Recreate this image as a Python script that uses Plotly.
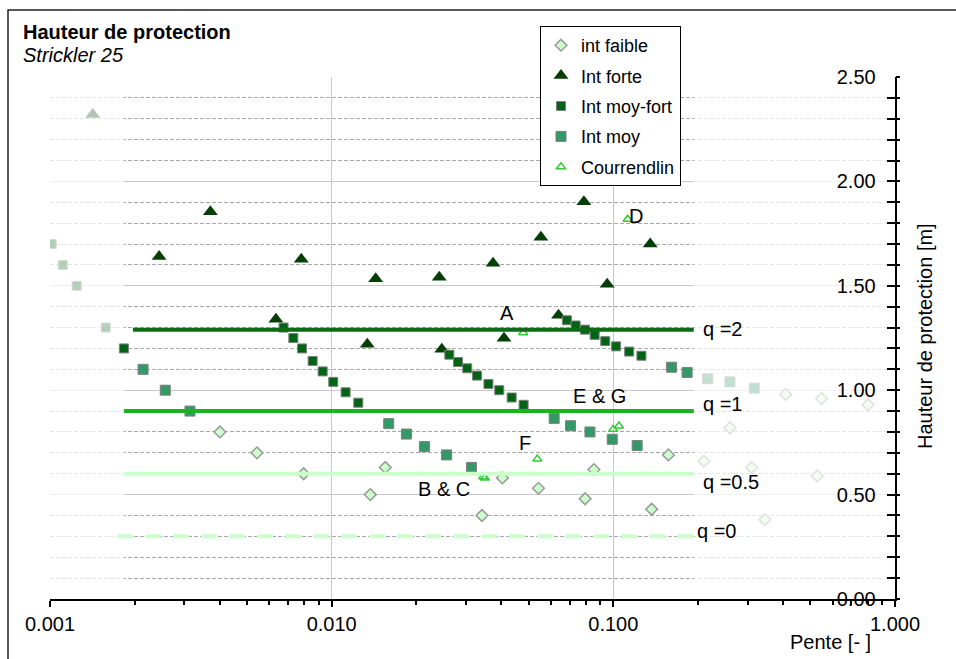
import numpy as np
import plotly.graph_objects as go

# ---------------- data ----------------
FAIBLE_X = [0.00401, 0.00543, 0.00795, 0.01371, 0.0155, 0.03416, 0.04039, 0.05422,
            0.0794, 0.08532, 0.1368, 0.1569, 0.2097, 0.2594, 0.3097, 0.3452,
            0.4089, 0.5295, 0.5489, 0.803]
FAIBLE_Y = [0.80, 0.70, 0.60, 0.50, 0.63, 0.40, 0.58, 0.53,
            0.48, 0.62, 0.43, 0.69, 0.66, 0.82, 0.63, 0.38,
            0.98, 0.59, 0.96, 0.93]

FORTE_X = [0.001418, 0.00244, 0.00371, 0.00634, 0.0078, 0.01338, 0.01433, 0.0241,
           0.0246, 0.0374, 0.0409, 0.0553, 0.0639, 0.0786, 0.0951, 0.1352]
FORTE_Y = [2.32, 1.64, 1.855, 1.34, 1.627, 1.22, 1.534, 1.541,
           1.196, 1.608, 1.249, 1.732, 1.359, 1.903, 1.507, 1.70]

MOYFORT_X = [0.001014, 0.00111, 0.001244, 0.001577, 0.00183,
             0.00675, 0.00731, 0.00785, 0.00856, 0.00929, 0.01013, 0.01121, 0.01243,
             0.02616, 0.02808, 0.03029, 0.0328, 0.03602, 0.03936, 0.04355, 0.04802,
             0.06842, 0.07348, 0.07929, 0.08584, 0.09361, 0.1023, 0.1138, 0.1258]
MOYFORT_Y = [1.70, 1.60, 1.50, 1.30, 1.20,
             1.30, 1.25, 1.20, 1.14, 1.09, 1.04, 0.99, 0.94,
             1.17, 1.135, 1.105, 1.07, 1.03, 1.00, 0.965, 0.93,
             1.335, 1.31, 1.29, 1.265, 1.235, 1.21, 1.185, 1.165]

MOY_X = [0.00214, 0.002566, 0.00314,
         0.01594, 0.01843, 0.02135, 0.02559, 0.03135,
         0.06165, 0.07047, 0.0826, 0.0991, 0.1215,
         0.161, 0.1828, 0.2163, 0.2594, 0.3164]
MOY_Y = [1.10, 1.00, 0.90,
         0.84, 0.79, 0.73, 0.69, 0.63,
         0.865, 0.83, 0.80, 0.765, 0.735,
         1.11, 1.085, 1.055, 1.04, 1.01]

COUR_X = [0.0345, 0.0350, 0.04787, 0.0537, 0.0998, 0.1047, 0.1124]
COUR_Y = [0.585, 0.580, 1.2755, 0.670, 0.8125, 0.8285, 1.8185]

# protection heights for specific discharge q
Q_LABELS = ["q =2", "q =1", "q =0.5", "q =0"]
Q_HEIGHT = [1.29, 0.90, 0.60, 0.30]
Q_X_START = [0.00197, 0.00183, 0.00183, 0.00173]
Q_X_END = [0.193, 0.193, 0.193, 0.193]
Q_LABEL_X = [0.2046, 0.2046, 0.2046, 0.195]
Q_LABEL_Y = [1.293, 0.934, 0.562, 0.326]

SITE_LABELS = ["A", "B & C", "D", "E & G", "F"]
SITE_LABEL_X = [0.0418, 0.0251, 0.1202, 0.0896, 0.0486]
SITE_LABEL_Y = [1.371, 0.527, 1.834, 0.972, 0.746]

# validity range of the method (outside it everything is faded)
VALID_MIN = 0.00183
VALID_MAX = 0.193

X_TITLE = "Pente [- ]"
Y_TITLE = "Hauteur de protection [m]"
TITLE = "Hauteur de protection"
SUBTITLE = "Strickler 25"

# ---------------- styling ----------------
FONT = "Liberation Sans, Arial, sans-serif"
W, H = 956, 659
L, R, T, B = 50, 61, 77, 60
PW, PH = W - L - R, H - T - B
FADE = 0.7


def px2paper(px, py):
    return (px - L) / PW, (H - B - py) / PH


def fade(hexcol, a=FADE):
    hexcol = hexcol.lstrip("#")
    r, g, b = (int(hexcol[i:i + 2], 16) for i in (0, 2, 4))
    r, g, b = (round(c + (255 - c) * a) for c in (r, g, b))
    return f"#{r:02x}{g:02x}{b:02x}"


SERIES = [
    dict(name="int faible", x=FAIBLE_X, y=FAIBLE_Y, symbol="diamond", size=9,
         color="#ccffcc", line="#999999", lw=1.5),
    dict(name="Int forte", x=FORTE_X, y=FORTE_Y, symbol="triangle-up", size=13,
         color="#063f06", line="#063f06", lw=0),
    dict(name="Int moy-fort", x=MOYFORT_X, y=MOYFORT_Y, symbol="square", size=9,
         color="#006414", line="#7f7f7f", lw=1),
    dict(name="Int moy", x=MOY_X, y=MOY_Y, symbol="square", size=10,
         color="#339966", line="#7f7f7f", lw=1),
    dict(name="Courrendlin", x=COUR_X, y=COUR_Y, symbol="triangle-up-open", size=8,
         color="#33cc33", line="#33cc33", lw=1.5),
]

fig = go.Figure()

for i, s in enumerate(SERIES):
    xs = np.array(s["x"])
    ys = np.array(s["y"])
    inside = (xs >= VALID_MIN * 0.99) & (xs <= VALID_MAX)
    for part, mask in (("in", inside), ("out", ~inside)):
        faded = part == "out"
        fig.add_trace(go.Scatter(
            x=xs[mask], y=ys[mask], mode="markers", name=s["name"],
            legendgroup=s["name"], showlegend=(part == "in"),
            marker=dict(symbol=s["symbol"], size=s["size"],
                        color=fade(s["color"]) if faded else s["color"],
                        line=dict(color=fade(s["line"]) if faded else s["line"],
                                  width=s["lw"])),
            hoverinfo="x+y+name",
        ))

Q_STYLES = [
    dict(color="#0c6b14", width=4, dash="solid"),
    dict(color="#1db31d", width=4, dash="solid"),
    dict(color="#ccffcc", width=4, dash="solid"),
    dict(color="#ccffcc", width=4, dash="16px,12px"),
]
for lab, h, x0, x1, st in zip(Q_LABELS, Q_HEIGHT, Q_X_START, Q_X_END, Q_STYLES):
    fig.add_trace(go.Scatter(x=[x0, x1], y=[h, h], mode="lines", name=lab,
                             showlegend=False, line=st, hoverinfo="name"))

# dummy trace so that the crossing (outside) tick axis is drawn
fig.add_trace(go.Scatter(x=[], y=[], yaxis="y2", showlegend=False, hoverinfo="skip"))

annotations = []
for lab, xv, yv in zip(Q_LABELS, Q_LABEL_X, Q_LABEL_Y):
    annotations.append(dict(x=np.log10(xv), y=yv, xref="x", yref="y", text=lab,
                            showarrow=False, xanchor="left", yanchor="middle",
                            font=dict(size=20, color="#000000", family=FONT)))
for lab, xv, yv in zip(SITE_LABELS, SITE_LABEL_X, SITE_LABEL_Y):
    annotations.append(dict(x=np.log10(xv), y=yv, xref="x", yref="y", text=lab,
                            showarrow=False, xanchor="center", yanchor="middle",
                            font=dict(size=20, color="#000000", family=FONT)))

tx, ty = px2paper(21, 32)
annotations.append(dict(x=tx, y=ty, xref="paper", yref="paper", text=f"<b>{TITLE}</b>",
                        showarrow=False, xanchor="left", yanchor="middle",
                        font=dict(size=20, color="#000000", family=FONT)))
sx, sy = px2paper(21, 55)
annotations.append(dict(x=sx, y=sy, xref="paper", yref="paper", text=f"<i>{SUBTITLE}</i>",
                        showarrow=False, xanchor="left", yanchor="middle",
                        font=dict(size=20, color="#000000", family=FONT)))
ax_, ay_ = px2paper(830, 642)
annotations.append(dict(x=ax_, y=ay_, xref="paper", yref="paper", text=X_TITLE,
                        showarrow=False, xanchor="center", yanchor="middle",
                        font=dict(size=20, color="#000000", family=FONT)))
bx_, by_ = px2paper(925, 336)
annotations.append(dict(x=bx_, y=by_, xref="paper", yref="paper", text=Y_TITLE,
                        showarrow=False, xanchor="center", yanchor="middle",
                        textangle=-90,
                        font=dict(size=20, color="#000000", family=FONT)))

shapes = []
# faded overlays outside the validity range (over the grid, under the markers)
for x0, x1 in ((1e-3, VALID_MIN), (VALID_MAX, 1.0)):
    shapes.append(dict(type="rect", xref="x", yref="y", x0=x0, x1=x1, y0=0.004, y1=2.49,
                       fillcolor="rgba(255,255,255,0.7)", line=dict(width=0),
                       layer="between"))
# outer frame of the chart
fx0, fy0 = px2paper(8, 668)
fx1, fy1 = px2paper(966, 10)
shapes.append(dict(type="rect", xref="paper", yref="paper", x0=fx0, y0=fy0, x1=fx1, y1=fy1,
                   line=dict(color="#222222", width=1.5), fillcolor="rgba(0,0,0,0)",
                   layer="above"))

lx, ly = px2paper(540, 26)

fig.update_layout(
    width=W, height=H,
    margin=dict(l=L, r=R, t=T, b=B, pad=0),
    paper_bgcolor="white", plot_bgcolor="white",
    font=dict(family=FONT, size=20, color="#000000"),
    showlegend=True,
    legend=dict(x=lx, y=ly, xanchor="left", yanchor="top", xref="paper", yref="paper",
                bgcolor="white", bordercolor="#000000", borderwidth=1,
                font=dict(size=18, family=FONT, color="#000000"),
                tracegroupgap=4, itemwidth=30),
    xaxis=dict(type="log", range=[-3, 0], dtick=1, tickformat=".3f",
               showline=True, linecolor="#000000", linewidth=1.5,
               ticks="outside", ticklen=6, tickcolor="#000000", tickwidth=1.5,
               showgrid=True, gridcolor="#c8c8c8", gridwidth=1,
               zeroline=False,
               tickfont=dict(size=20, family=FONT, color="#000000"),
               minor=dict(ticks="outside", ticklen=4, tickcolor="#000000", dtick="D1",
                          showgrid=False)),
    yaxis=dict(range=[0, 2.5], side="right", dtick=0.5, tick0=0, tickformat=".2f",
               showline=True, linecolor="#000000", linewidth=1.5,
               ticks="inside", ticklen=8, tickcolor="#000000", tickwidth=1.5,
               ticklabelposition="outside", ticklabelstandoff=-64,
               showgrid=True, gridcolor="#c8c8c8", gridwidth=1,
               zeroline=False,
               tickfont=dict(size=20, family=FONT, color="#000000"),
               minor=dict(dtick=0.1, tick0=0, ticks="inside", ticklen=8,
                          tickcolor="#000000", tickwidth=1.5,
                          showgrid=True, gridcolor="#a8a8a8", griddash="4px,2px",
                          gridwidth=1)),
    yaxis2=dict(range=[0, 2.5], overlaying="y", side="right", anchor="x",
                dtick=0.1, tick0=0, ticks="outside", ticklen=4, tickcolor="#000000",
                tickwidth=1.5, showticklabels=False, showgrid=False, showline=False,
                zeroline=False),
    annotations=annotations,
    shapes=shapes,
)

fig.write_html("out.html", config={"displayModeBar": False},
               post_script="document.body.style.margin='0';document.body.style.padding='0';")
